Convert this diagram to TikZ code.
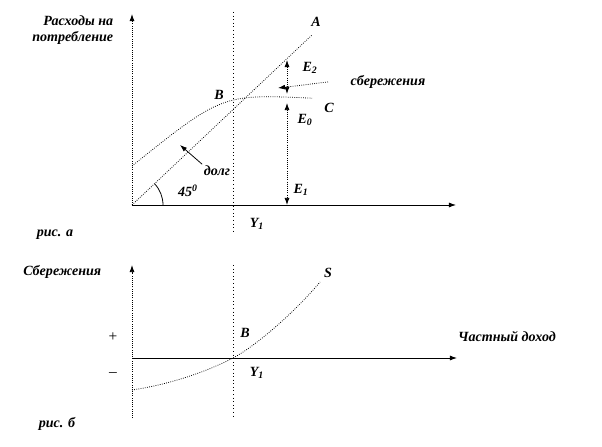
\documentclass[tikz,border=0pt]{standalone}
\usepackage{fontspec}
\setmainfont{Liberation Serif}
\usetikzlibrary{arrows.meta}
\tikzset{
    lbl/.style={font=\fontsize{10}{11}\selectfont\bfseries\itshape, inner sep=1pt},
    tip/.style={-{Latex[length=5pt,width=3.5pt]}},
    twotip/.style={{Latex[length=5pt,width=3.5pt]}-{Latex[length=5pt,width=3.5pt]}},
}
\def\ccurve{.. controls (4.5,5.55) .. (9,5.34)}
\def\scurve{.. controls (2,-1.3) and (3.8,-0.65) .. (5.05,0) .. controls (6.2,0.6) and (8.2,2.35) .. (9.4,3.8)}

\begin{document}
\begin{tikzpicture}[x=0.5cm,y=0.5cm,line width=0.55pt]
                \useasboundingbox (-6.6,-12.05) rectangle (23.5,10.25);
                % рис. а
                \begin{scope}
                    \coordinate (O) at (0,0);
                    \coordinate (ytop) at (0,9.55);
                    \coordinate (xend) at (16.2,0);
                    \coordinate (A) at (9,8.5);
                    \coordinate (C0) at (0,1.95);
                    \draw[densely dotted, tip] (O) -- (ytop);
                    \draw[tip] (O) -- (xend);
                    \draw[dotted] (5.05,9.65) -- (5.05,-1.35);
                    \draw[densely dotted] (O) -- (A);
                    \draw[densely dotted] (C0) \ccurve;
                    \draw (1.55,0) arc (0:43:1.55);
                    % отрезки E
                    \coordinate (e2) at (7.75,7.25);
                    \coordinate (e2b) at (7.75,5.55);
                    \coordinate (e0) at (7.75,5.1);
                    \coordinate (e1) at (7.75,0);
                    \draw[densely dotted, twotip] (e2) -- (e2b);
                    \draw[densely dotted, twotip] (e0) -- (e1);
                    \node[lbl] (sav) at (12.8,6.15) {сбережения};
                    \coordinate (savs) at (9.8,6.15);
                    \coordinate (save) at (7.3,5.85);
                    \draw[densely dotted, tip] (savs) -- (save);
                    \node[lbl] (debt) at (4.25,1.7) {долг};
                    \coordinate (debte) at (2.4,3.0);
                    \draw[tip] (debt.north west) -- (debte);
                    \node[lbl] (ang) at (2.8,0.7) {45\textsuperscript{0}};
                    \node[lbl, align=right, anchor=east] (cons) at (-0.85,8.75) {Расходы на\\потребление};
                    \node[lbl] (figa) at (-3.85,-1.5) {рис. а};
                    \node[lbl] (y1) at (6.25,-0.95) {Y\textsubscript{1}};
                    \node[lbl] (Bt) at (4.35,5.5) {B};
                    \node[lbl] (At) at (9.2,9.15) {A};
                    \node[lbl] (Ct) at (9.85,4.85) {C};
                    \node[lbl] (E2) at (8.9,6.85) {E\textsubscript{2}};
                    \node[lbl] (E0) at (8.65,4.25) {E\textsubscript{0}};
                    \node[lbl] (E1) at (8.45,0.75) {E\textsubscript{1}};
                \end{scope}
                % рис. б
                \begin{scope}[shift={(0,-7.65)}]
                    \coordinate (O2) at (0,0);
                    \coordinate (y2top) at (0,4.65);
                    \coordinate (y2bot) at (0,-3.0);
                    \coordinate (x2end) at (16.25,0);
                    \draw[densely dotted, tip] (y2bot) -- (y2top);
                    \draw[tip] (O2) -- (x2end);
                    \draw[dotted] (5.05,4.65) -- (5.05,-3.0);
                    \draw[densely dotted] (0,-1.6) \scurve;
                    \node[lbl, anchor=east] (savb) at (-1.45,4.3) {Сбережения};
                    \node[lbl] (inc) at (18.75,1.05) {Частный доход};
                    \node[lbl] (figb) at (-3.75,-3.3) {рис. б};
                    \node[lbl] (St) at (9.8,4.25) {S};
                    \node[lbl] (Bb) at (5.65,1.25) {B};
                    \node[lbl] (y1b) at (6.25,-0.75) {Y\textsubscript{1}};
                    \node[font=\fontsize{11}{12}\selectfont] (plus) at (-0.95,1.05) {+};
                    \node[font=\fontsize{11}{12}\selectfont] (minus) at (-0.95,-0.85) {--};
                \end{scope}
            \end{tikzpicture}
\end{document}
